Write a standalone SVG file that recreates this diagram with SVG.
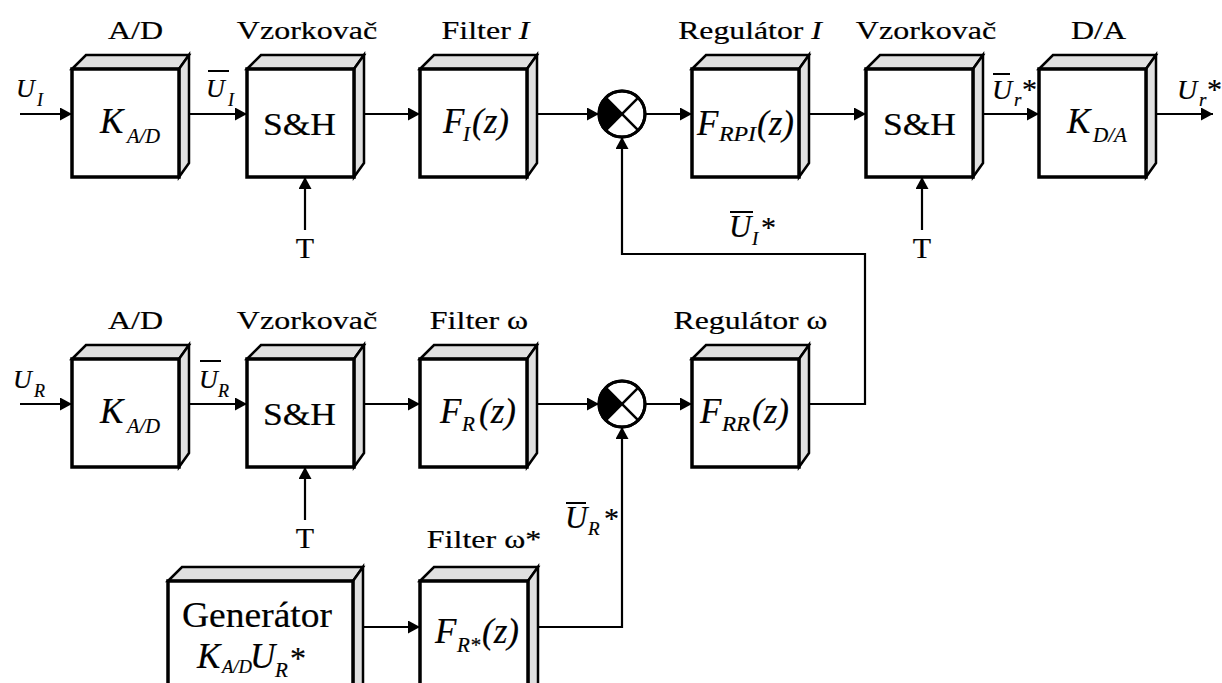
<svg xmlns="http://www.w3.org/2000/svg" xmlns:xlink="http://www.w3.org/1999/xlink" width="1222" height="683" viewBox="0 0 1222 683">
<style>
text { font-family: "Liberation Serif", "Times New Roman", serif; fill: #000; stroke: #000; stroke-width: 0.2px; }
.lbl { font-size: 25px; }
.it { font-style: italic; }
.blk { font-size: 35px; font-style: italic; }
.sub { font-size: 21px; font-style: italic; }
.sh { font-size: 31px; }
.t { font-size: 30px; }
.front { fill: #fff; stroke: #000; stroke-width: 3.5; }
.side { fill: #e0e0e0; stroke: #000; stroke-width: 2.5; stroke-linejoin: miter; }
.wire { fill: none; stroke: #000; stroke-width: 2.2; }
.ovl { stroke: #000; stroke-width: 2; }
.sum { fill: #fff; stroke: #000; stroke-width: 3; }
.x { stroke: #000; stroke-width: 2.5; }
</style>
<defs>
<marker id="arr" viewBox="0 0 12 13" refX="12" refY="6.5" markerWidth="12" markerHeight="13" markerUnits="userSpaceOnUse" orient="auto">
<path d="M0,0 L12,6.5 L0,13 Z" fill="#000"/>
</marker>
<g id="box">
<polygon class="side" points="0,0 14,-14 117,-14 107,0"/>
<polygon class="side" points="107,0 117,-14 117,94 107,108"/>
<rect class="front" x="0" y="0" width="107" height="108"/>
</g>
</defs>

<g id="connectors">
<line class="wire" x1="20" y1="114" x2="72" y2="114" marker-end="url(#arr)"/>
<line class="wire" x1="186" y1="114" x2="247" y2="114" marker-end="url(#arr)"/>
<line class="wire" x1="359" y1="114" x2="420" y2="114" marker-end="url(#arr)"/>
<line class="wire" x1="533" y1="114" x2="599" y2="114" marker-end="url(#arr)"/>
<line class="wire" x1="645" y1="114" x2="692" y2="114" marker-end="url(#arr)"/>
<line class="wire" x1="804" y1="114" x2="866" y2="114" marker-end="url(#arr)"/>
<line class="wire" x1="979" y1="114" x2="1039" y2="114" marker-end="url(#arr)"/>
<line class="wire" x1="1151" y1="114" x2="1213" y2="114" marker-end="url(#arr)"/>
<line class="wire" x1="305" y1="230" x2="305" y2="177" marker-end="url(#arr)"/>
<line class="wire" x1="922" y1="230" x2="922" y2="177" marker-end="url(#arr)"/>
<polyline class="wire" points="804,404 865,404 865,254 622,254 622,137" marker-end="url(#arr)"/>
<line class="wire" x1="20" y1="404" x2="72" y2="404" marker-end="url(#arr)"/>
<line class="wire" x1="186" y1="404" x2="247" y2="404" marker-end="url(#arr)"/>
<line class="wire" x1="359" y1="404" x2="420" y2="404" marker-end="url(#arr)"/>
<line class="wire" x1="533" y1="404" x2="599" y2="404" marker-end="url(#arr)"/>
<line class="wire" x1="645" y1="404" x2="692" y2="404" marker-end="url(#arr)"/>
<line class="wire" x1="305" y1="520" x2="305" y2="467" marker-end="url(#arr)"/>
<line class="wire" x1="358" y1="627" x2="420" y2="627" marker-end="url(#arr)"/>
<polyline class="wire" points="533,627 622,627 622,427" marker-end="url(#arr)"/>
</g>

<g id="ad1">
<use xlink:href="#box" x="72" y="69"/>
<text class="lbl" transform="translate(135.5 39) scale(1.28 1)" text-anchor="middle">A/D</text>
<text class="blk" x="100" y="133">K</text><text class="sub" x="127" y="143" textLength="33" lengthAdjust="spacingAndGlyphs">A/D</text>
</g>
<g id="sh1">
<use xlink:href="#box" x="247" y="69"/>
<text class="lbl" transform="translate(307 39) scale(1.28 1)" text-anchor="middle">Vzorkovač</text>
<text class="sh" x="263" y="135" textLength="73" lengthAdjust="spacingAndGlyphs">S&amp;H</text>
</g>
<g id="fi">
<use xlink:href="#box" x="420" y="69"/>
<text class="lbl" transform="translate(485.5 39) scale(1.28 1)" text-anchor="middle">Filter <tspan class="it">I</tspan></text>
<text class="blk" x="443" y="133">F</text><text class="sub" x="463" y="141">I</text><text class="blk" x="472" y="133">(z)</text>
</g>
<g id="sum1">
<circle class="sum" cx="622" cy="114" r="23"/>
<path d="M622,114 L605.7,97.7 A23,23 0 0 0 605.7,130.3 Z" fill="#000"/>
<line class="x" x1="605.7" y1="97.7" x2="638.3" y2="130.3"/>
<line class="x" x1="605.7" y1="130.3" x2="638.3" y2="97.7"/>
<circle cx="622" cy="114" r="23" fill="none" stroke="#000" stroke-width="3"/>
</g>
<g id="ri">
<use xlink:href="#box" x="692" y="69"/>
<text class="lbl" transform="translate(750 39) scale(1.27 1)" text-anchor="middle">Regulátor <tspan class="it">I</tspan></text>
<text class="blk" x="697" y="135">F</text><text class="sub" x="719" y="141" textLength="37" lengthAdjust="spacingAndGlyphs">RPI</text><text class="blk" x="757" y="135">(z)</text>
</g>
<g id="sh2">
<use xlink:href="#box" x="866" y="69"/>
<text class="lbl" transform="translate(926 39) scale(1.28 1)" text-anchor="middle">Vzorkovač</text>
<text class="sh" x="883" y="135" textLength="73" lengthAdjust="spacingAndGlyphs">S&amp;H</text>
</g>
<g id="da">
<use xlink:href="#box" x="1039" y="69"/>
<text class="lbl" transform="translate(1098.5 39) scale(1.28 1)" text-anchor="middle">D/A</text>
<text class="blk" x="1067" y="133">K</text><text class="sub" x="1093" y="142" textLength="34" lengthAdjust="spacingAndGlyphs">D/A</text>
</g>

<g id="ad2">
<use xlink:href="#box" x="72" y="359"/>
<text class="lbl" transform="translate(135.5 329) scale(1.28 1)" text-anchor="middle">A/D</text>
<text class="blk" x="100" y="423">K</text><text class="sub" x="127" y="433" textLength="33" lengthAdjust="spacingAndGlyphs">A/D</text>
</g>
<g id="sh3">
<use xlink:href="#box" x="247" y="359"/>
<text class="lbl" transform="translate(307 329) scale(1.28 1)" text-anchor="middle">Vzorkovač</text>
<text class="sh" x="263" y="425" textLength="73" lengthAdjust="spacingAndGlyphs">S&amp;H</text>
</g>
<g id="fr">
<use xlink:href="#box" x="420" y="359"/>
<text class="lbl" transform="translate(479 329) scale(1.28 1)" text-anchor="middle">Filter ω</text>
<text class="blk" x="440" y="423">F</text><text class="sub" x="462" y="431">R</text><text class="blk" x="479" y="423">(z)</text>
</g>
<g id="sum2">
<circle class="sum" cx="622" cy="404" r="23"/>
<path d="M622,404 L605.7,387.7 A23,23 0 0 0 605.7,420.3 Z" fill="#000"/>
<line class="x" x1="605.7" y1="387.7" x2="638.3" y2="420.3"/>
<line class="x" x1="605.7" y1="420.3" x2="638.3" y2="387.7"/>
<circle cx="622" cy="404" r="23" fill="none" stroke="#000" stroke-width="3"/>
</g>
<g id="rr">
<use xlink:href="#box" x="692" y="359"/>
<text class="lbl" transform="translate(750.5 329) scale(1.27 1)" text-anchor="middle">Regulátor ω</text>
<text class="blk" x="700" y="423">F</text><text class="sub" x="722" y="431" textLength="28" lengthAdjust="spacingAndGlyphs">RR</text><text class="blk" x="752" y="423">(z)</text>
</g>

<g id="gen">
<polygon class="side" points="168,581 182,567 363,567 353,581"/>
<polygon class="side" points="353,581 363,567 363,720 353,720"/>
<rect class="front" x="168" y="581" width="185" height="140"/>
<text x="257" y="627" font-size="36" text-anchor="middle" textLength="150" lengthAdjust="spacingAndGlyphs">Generátor</text>
<text class="blk" x="197" y="668">K</text><text class="it" x="222" y="673" font-size="19" textLength="30" lengthAdjust="spacingAndGlyphs">A/D</text><text class="blk" x="250" y="668">U</text><text class="sub" x="275" y="677">R</text><text x="290" y="669" font-size="32">*</text>
</g>
<g id="frs">
<polygon class="side" points="420,581 434,567 538,567 528,581"/>
<polygon class="side" points="528,581 538,567 538,720 528,720"/>
<rect class="front" x="420" y="581" width="108" height="140"/>
<text class="lbl" transform="translate(484 548) scale(1.28 1)" text-anchor="middle">Filter ω*</text>
<text class="blk" x="435" y="643">F</text><text class="sub" x="457" y="652">R*</text><text class="blk" x="482" y="643">(z)</text>
</g>

<g id="signal-labels">
<text class="it" x="16" y="97" font-size="26">U</text><text class="it" x="37" y="106" font-size="18">I</text>
<line class="ovl" x1="208" y1="71" x2="229" y2="71"/>
<text class="it" x="206" y="97" font-size="26">U</text><text class="it" x="228" y="106" font-size="18">I</text>
<line class="ovl" x1="993" y1="74" x2="1010" y2="74"/>
<text class="it" x="992" y="99" font-size="28">U</text><text class="it" x="1014" y="106" font-size="19">r</text><text x="1022" y="99" font-size="30">*</text>
<text class="it" x="1177" y="99" font-size="28">U</text><text class="it" x="1199" y="106" font-size="19">r</text><text x="1207" y="99" font-size="30">*</text>
<text class="t" x="305" y="258" text-anchor="middle">T</text>
<text class="t" x="922" y="258" text-anchor="middle">T</text>
<line class="ovl" x1="730" y1="212" x2="753" y2="212"/>
<text class="it" x="729" y="237" font-size="31">U</text><text class="it" x="752" y="245" font-size="19">I</text><text x="761" y="237" font-size="30">*</text>
<text class="it" x="13" y="388" font-size="26">U</text><text class="it" x="34" y="397" font-size="18">R</text>
<line class="ovl" x1="200" y1="361" x2="221" y2="361"/>
<text class="it" x="199" y="388" font-size="26">U</text><text class="it" x="218" y="397" font-size="18">R</text>
<text class="t" x="305" y="548" text-anchor="middle">T</text>
<line class="ovl" x1="566" y1="503" x2="586" y2="503"/>
<text class="it" x="565" y="528" font-size="31">U</text><text class="it" x="588" y="535" font-size="19">R</text><text x="604" y="528" font-size="30">*</text>
</g>
</svg>
